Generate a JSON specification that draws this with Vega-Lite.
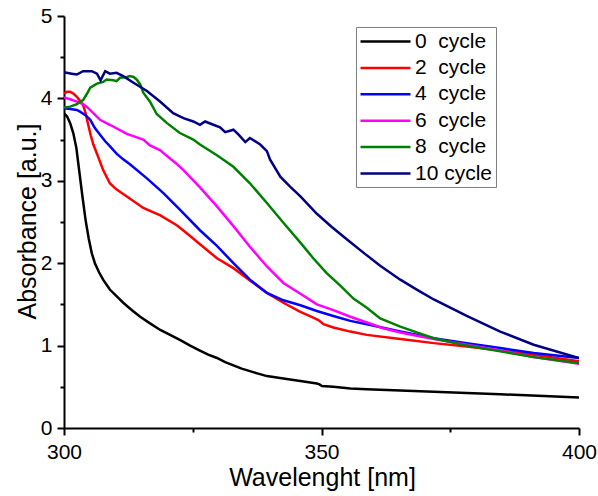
{
  "$schema": "https://vega.github.io/schema/vega-lite/v6.json",
  "autosize": "none",
  "width": 515,
  "height": 412,
  "padding": {"left": 64, "top": 16, "right": 19, "bottom": 68},
  "background": "white",
  "config": {
    "view": {"stroke": null},
    "font": "Liberation Sans",
    "axis": {"grid": false, "domainColor": "black", "domainWidth": 2, "tickColor": "black", "tickWidth": 2, "labelColor": "black", "titleColor": "black", "labelFont": "Liberation Sans", "titleFont": "Liberation Sans", "labelFontSize": 21, "titleFontSize": 25, "titleFontWeight": "normal"}
  },
  "datasets": {
    "spectra": [
      {"c":"0\u00a0\u00a0cycle","w":300,"a":3.82},{"c":"0\u00a0\u00a0cycle","w":300.6,"a":3.78},{"c":"0\u00a0\u00a0cycle","w":301.2,"a":3.70},{"c":"0\u00a0\u00a0cycle","w":301.8,"a":3.58},{"c":"0\u00a0\u00a0cycle","w":302.4,"a":3.40},{"c":"0\u00a0\u00a0cycle","w":303.0,"a":3.10},{"c":"0\u00a0\u00a0cycle","w":303.6,"a":2.80},{"c":"0\u00a0\u00a0cycle","w":304.2,"a":2.52},{"c":"0\u00a0\u00a0cycle","w":304.8,"a":2.30},{"c":"0\u00a0\u00a0cycle","w":305.4,"a":2.12},{"c":"0\u00a0\u00a0cycle","w":306.0,"a":2.00},{"c":"0\u00a0\u00a0cycle","w":306.8,"a":1.89},{"c":"0\u00a0\u00a0cycle","w":307.6,"a":1.80},{"c":"0\u00a0\u00a0cycle","w":308.9,"a":1.68},{"c":"0\u00a0\u00a0cycle","w":310.2,"a":1.60},{"c":"0\u00a0\u00a0cycle","w":311.5,"a":1.52},{"c":"0\u00a0\u00a0cycle","w":313.2,"a":1.43},{"c":"0\u00a0\u00a0cycle","w":314.8,"a":1.35},{"c":"0\u00a0\u00a0cycle","w":316.7,"a":1.27},{"c":"0\u00a0\u00a0cycle","w":318.7,"a":1.19},{"c":"0\u00a0\u00a0cycle","w":320.6,"a":1.13},{"c":"0\u00a0\u00a0cycle","w":322.5,"a":1.07},{"c":"0\u00a0\u00a0cycle","w":324.5,"a":1.00},{"c":"0\u00a0\u00a0cycle","w":326.4,"a":0.94},{"c":"0\u00a0\u00a0cycle","w":328.0,"a":0.89},{"c":"0\u00a0\u00a0cycle","w":329.7,"a":0.85},{"c":"0\u00a0\u00a0cycle","w":331.3,"a":0.80},{"c":"0\u00a0\u00a0cycle","w":332.9,"a":0.76},{"c":"0\u00a0\u00a0cycle","w":334.5,"a":0.72},{"c":"0\u00a0\u00a0cycle","w":336.1,"a":0.69},{"c":"0\u00a0\u00a0cycle","w":337.7,"a":0.66},{"c":"0\u00a0\u00a0cycle","w":339.4,"a":0.63},{"c":"0\u00a0\u00a0cycle","w":342.6,"a":0.60},{"c":"0\u00a0\u00a0cycle","w":345.9,"a":0.57},{"c":"0\u00a0\u00a0cycle","w":349.1,"a":0.54},{"c":"0\u00a0\u00a0cycle","w":349.6,"a":0.53},{"c":"0\u00a0\u00a0cycle","w":350.1,"a":0.51},{"c":"0\u00a0\u00a0cycle","w":352.3,"a":0.50},{"c":"0\u00a0\u00a0cycle","w":355.6,"a":0.48},{"c":"0\u00a0\u00a0cycle","w":358.8,"a":0.47},{"c":"0\u00a0\u00a0cycle","w":365.3,"a":0.455},{"c":"0\u00a0\u00a0cycle","w":371.8,"a":0.44},{"c":"0\u00a0\u00a0cycle","w":378.2,"a":0.425},{"c":"0\u00a0\u00a0cycle","w":384.7,"a":0.41},{"c":"0\u00a0\u00a0cycle","w":392.0,"a":0.39},{"c":"0\u00a0\u00a0cycle","w":400,"a":0.37},
      {"c":"2\u00a0\u00a0cycle","w":300,"a":4.06},{"c":"2\u00a0\u00a0cycle","w":300.6,"a":4.08},{"c":"2\u00a0\u00a0cycle","w":301.2,"a":4.08},{"c":"2\u00a0\u00a0cycle","w":301.8,"a":4.06},{"c":"2\u00a0\u00a0cycle","w":302.5,"a":4.02},{"c":"2\u00a0\u00a0cycle","w":303.1,"a":3.97},{"c":"2\u00a0\u00a0cycle","w":303.7,"a":3.92},{"c":"2\u00a0\u00a0cycle","w":304.2,"a":3.82},{"c":"2\u00a0\u00a0cycle","w":304.7,"a":3.68},{"c":"2\u00a0\u00a0cycle","w":305.2,"a":3.55},{"c":"2\u00a0\u00a0cycle","w":305.7,"a":3.44},{"c":"2\u00a0\u00a0cycle","w":306.7,"a":3.28},{"c":"2\u00a0\u00a0cycle","w":307.6,"a":3.13},{"c":"2\u00a0\u00a0cycle","w":308.9,"a":2.97},{"c":"2\u00a0\u00a0cycle","w":310.1,"a":2.90},{"c":"2\u00a0\u00a0cycle","w":312.2,"a":2.81},{"c":"2\u00a0\u00a0cycle","w":315.4,"a":2.67},{"c":"2\u00a0\u00a0cycle","w":318.7,"a":2.58},{"c":"2\u00a0\u00a0cycle","w":321.9,"a":2.46},{"c":"2\u00a0\u00a0cycle","w":324.5,"a":2.33},{"c":"2\u00a0\u00a0cycle","w":326.4,"a":2.23},{"c":"2\u00a0\u00a0cycle","w":329.7,"a":2.06},{"c":"2\u00a0\u00a0cycle","w":332.9,"a":1.94},{"c":"2\u00a0\u00a0cycle","w":336.1,"a":1.79},{"c":"2\u00a0\u00a0cycle","w":339.4,"a":1.64},{"c":"2\u00a0\u00a0cycle","w":342.6,"a":1.52},{"c":"2\u00a0\u00a0cycle","w":345.9,"a":1.41},{"c":"2\u00a0\u00a0cycle","w":348.4,"a":1.34},{"c":"2\u00a0\u00a0cycle","w":349.4,"a":1.31},{"c":"2\u00a0\u00a0cycle","w":350.4,"a":1.26},{"c":"2\u00a0\u00a0cycle","w":352.3,"a":1.22},{"c":"2\u00a0\u00a0cycle","w":355.6,"a":1.17},{"c":"2\u00a0\u00a0cycle","w":358.8,"a":1.13},{"c":"2\u00a0\u00a0cycle","w":365.3,"a":1.08},{"c":"2\u00a0\u00a0cycle","w":371.8,"a":1.03},{"c":"2\u00a0\u00a0cycle","w":378.2,"a":0.99},{"c":"2\u00a0\u00a0cycle","w":384.7,"a":0.94},{"c":"2\u00a0\u00a0cycle","w":391.2,"a":0.89},{"c":"2\u00a0\u00a0cycle","w":400,"a":0.81},
      {"c":"4\u00a0\u00a0cycle","w":300,"a":3.88},{"c":"4\u00a0\u00a0cycle","w":301.2,"a":3.87},{"c":"4\u00a0\u00a0cycle","w":302.5,"a":3.86},{"c":"4\u00a0\u00a0cycle","w":303.1,"a":3.84},{"c":"4\u00a0\u00a0cycle","w":304.1,"a":3.80},{"c":"4\u00a0\u00a0cycle","w":305.1,"a":3.74},{"c":"4\u00a0\u00a0cycle","w":306.0,"a":3.64},{"c":"4\u00a0\u00a0cycle","w":307.0,"a":3.56},{"c":"4\u00a0\u00a0cycle","w":308.0,"a":3.48},{"c":"4\u00a0\u00a0cycle","w":308.9,"a":3.42},{"c":"4\u00a0\u00a0cycle","w":310.2,"a":3.33},{"c":"4\u00a0\u00a0cycle","w":311.5,"a":3.26},{"c":"4\u00a0\u00a0cycle","w":312.8,"a":3.20},{"c":"4\u00a0\u00a0cycle","w":316.1,"a":3.03},{"c":"4\u00a0\u00a0cycle","w":319.3,"a":2.85},{"c":"4\u00a0\u00a0cycle","w":322.5,"a":2.65},{"c":"4\u00a0\u00a0cycle","w":326.4,"a":2.40},{"c":"4\u00a0\u00a0cycle","w":329.7,"a":2.21},{"c":"4\u00a0\u00a0cycle","w":332.9,"a":2.00},{"c":"4\u00a0\u00a0cycle","w":336.1,"a":1.80},{"c":"4\u00a0\u00a0cycle","w":339.4,"a":1.64},{"c":"4\u00a0\u00a0cycle","w":342.6,"a":1.55},{"c":"4\u00a0\u00a0cycle","w":345.9,"a":1.49},{"c":"4\u00a0\u00a0cycle","w":349.1,"a":1.42},{"c":"4\u00a0\u00a0cycle","w":352.3,"a":1.36},{"c":"4\u00a0\u00a0cycle","w":355.6,"a":1.30},{"c":"4\u00a0\u00a0cycle","w":358.8,"a":1.26},{"c":"4\u00a0\u00a0cycle","w":365.3,"a":1.17},{"c":"4\u00a0\u00a0cycle","w":371.8,"a":1.09},{"c":"4\u00a0\u00a0cycle","w":378.2,"a":1.03},{"c":"4\u00a0\u00a0cycle","w":384.7,"a":0.97},{"c":"4\u00a0\u00a0cycle","w":391.2,"a":0.91},{"c":"4\u00a0\u00a0cycle","w":400,"a":0.85},
      {"c":"6\u00a0\u00a0cycle","w":300,"a":4.01},{"c":"6\u00a0\u00a0cycle","w":301.2,"a":3.99},{"c":"6\u00a0\u00a0cycle","w":302.5,"a":3.96},{"c":"6\u00a0\u00a0cycle","w":303.7,"a":3.93},{"c":"6\u00a0\u00a0cycle","w":304.4,"a":3.90},{"c":"6\u00a0\u00a0cycle","w":305.7,"a":3.82},{"c":"6\u00a0\u00a0cycle","w":307.0,"a":3.74},{"c":"6\u00a0\u00a0cycle","w":308.9,"a":3.68},{"c":"6\u00a0\u00a0cycle","w":312.2,"a":3.57},{"c":"6\u00a0\u00a0cycle","w":315.4,"a":3.50},{"c":"6\u00a0\u00a0cycle","w":316.7,"a":3.43},{"c":"6\u00a0\u00a0cycle","w":318.7,"a":3.37},{"c":"6\u00a0\u00a0cycle","w":320.0,"a":3.30},{"c":"6\u00a0\u00a0cycle","w":321.6,"a":3.22},{"c":"6\u00a0\u00a0cycle","w":323.2,"a":3.13},{"c":"6\u00a0\u00a0cycle","w":326.4,"a":2.92},{"c":"6\u00a0\u00a0cycle","w":329.7,"a":2.69},{"c":"6\u00a0\u00a0cycle","w":332.9,"a":2.45},{"c":"6\u00a0\u00a0cycle","w":336.1,"a":2.20},{"c":"6\u00a0\u00a0cycle","w":339.4,"a":1.96},{"c":"6\u00a0\u00a0cycle","w":342.6,"a":1.76},{"c":"6\u00a0\u00a0cycle","w":345.9,"a":1.63},{"c":"6\u00a0\u00a0cycle","w":349.1,"a":1.50},{"c":"6\u00a0\u00a0cycle","w":352.3,"a":1.43},{"c":"6\u00a0\u00a0cycle","w":355.6,"a":1.35},{"c":"6\u00a0\u00a0cycle","w":358.8,"a":1.28},{"c":"6\u00a0\u00a0cycle","w":362.0,"a":1.21},{"c":"6\u00a0\u00a0cycle","w":365.3,"a":1.16},{"c":"6\u00a0\u00a0cycle","w":368.5,"a":1.12},{"c":"6\u00a0\u00a0cycle","w":371.8,"a":1.08},{"c":"6\u00a0\u00a0cycle","w":378.2,"a":1.01},{"c":"6\u00a0\u00a0cycle","w":384.7,"a":0.94},{"c":"6\u00a0\u00a0cycle","w":391.2,"a":0.86},{"c":"6\u00a0\u00a0cycle","w":400,"a":0.78},
      {"c":"8\u00a0\u00a0cycle","w":300,"a":3.89},{"c":"8\u00a0\u00a0cycle","w":301.2,"a":3.90},{"c":"8\u00a0\u00a0cycle","w":302.5,"a":3.93},{"c":"8\u00a0\u00a0cycle","w":303.7,"a":3.98},{"c":"8\u00a0\u00a0cycle","w":304.4,"a":4.05},{"c":"8\u00a0\u00a0cycle","w":305.1,"a":4.13},{"c":"8\u00a0\u00a0cycle","w":306.4,"a":4.18},{"c":"8\u00a0\u00a0cycle","w":307.6,"a":4.20},{"c":"8\u00a0\u00a0cycle","w":308.3,"a":4.23},{"c":"8\u00a0\u00a0cycle","w":309.6,"a":4.22},{"c":"8\u00a0\u00a0cycle","w":310.2,"a":4.21},{"c":"8\u00a0\u00a0cycle","w":310.9,"a":4.25},{"c":"8\u00a0\u00a0cycle","w":312.2,"a":4.26},{"c":"8\u00a0\u00a0cycle","w":312.8,"a":4.27},{"c":"8\u00a0\u00a0cycle","w":313.5,"a":4.26},{"c":"8\u00a0\u00a0cycle","w":314.1,"a":4.23},{"c":"8\u00a0\u00a0cycle","w":314.8,"a":4.17},{"c":"8\u00a0\u00a0cycle","w":315.4,"a":4.07},{"c":"8\u00a0\u00a0cycle","w":316.7,"a":3.96},{"c":"8\u00a0\u00a0cycle","w":318.0,"a":3.81},{"c":"8\u00a0\u00a0cycle","w":320.0,"a":3.70},{"c":"8\u00a0\u00a0cycle","w":322.5,"a":3.58},{"c":"8\u00a0\u00a0cycle","w":325.1,"a":3.50},{"c":"8\u00a0\u00a0cycle","w":326.4,"a":3.44},{"c":"8\u00a0\u00a0cycle","w":329.7,"a":3.31},{"c":"8\u00a0\u00a0cycle","w":332.9,"a":3.17},{"c":"8\u00a0\u00a0cycle","w":336.1,"a":2.97},{"c":"8\u00a0\u00a0cycle","w":339.4,"a":2.73},{"c":"8\u00a0\u00a0cycle","w":342.6,"a":2.49},{"c":"8\u00a0\u00a0cycle","w":345.9,"a":2.25},{"c":"8\u00a0\u00a0cycle","w":348.4,"a":2.06},{"c":"8\u00a0\u00a0cycle","w":351.0,"a":1.88},{"c":"8\u00a0\u00a0cycle","w":353.6,"a":1.73},{"c":"8\u00a0\u00a0cycle","w":356.2,"a":1.57},{"c":"8\u00a0\u00a0cycle","w":358.8,"a":1.46},{"c":"8\u00a0\u00a0cycle","w":361.4,"a":1.33},{"c":"8\u00a0\u00a0cycle","w":365.3,"a":1.23},{"c":"8\u00a0\u00a0cycle","w":368.5,"a":1.16},{"c":"8\u00a0\u00a0cycle","w":371.8,"a":1.09},{"c":"8\u00a0\u00a0cycle","w":378.2,"a":1.00},{"c":"8\u00a0\u00a0cycle","w":384.7,"a":0.93},{"c":"8\u00a0\u00a0cycle","w":391.2,"a":0.86},{"c":"8\u00a0\u00a0cycle","w":400,"a":0.79},
      {"c":"10 cycle","w":300,"a":4.32},{"c":"10 cycle","w":300.5,"a":4.31},{"c":"10 cycle","w":301.5,"a":4.30},{"c":"10 cycle","w":302.5,"a":4.29},{"c":"10 cycle","w":303.7,"a":4.33},{"c":"10 cycle","w":305.4,"a":4.33},{"c":"10 cycle","w":306.4,"a":4.30},{"c":"10 cycle","w":307.1,"a":4.22},{"c":"10 cycle","w":308.0,"a":4.33},{"c":"10 cycle","w":308.9,"a":4.30},{"c":"10 cycle","w":310.2,"a":4.31},{"c":"10 cycle","w":311.5,"a":4.27},{"c":"10 cycle","w":313.5,"a":4.19},{"c":"10 cycle","w":316.1,"a":4.09},{"c":"10 cycle","w":318.7,"a":3.96},{"c":"10 cycle","w":321.2,"a":3.82},{"c":"10 cycle","w":323.2,"a":3.76},{"c":"10 cycle","w":325.1,"a":3.72},{"c":"10 cycle","w":326.4,"a":3.68},{"c":"10 cycle","w":327.4,"a":3.72},{"c":"10 cycle","w":329.0,"a":3.68},{"c":"10 cycle","w":330.3,"a":3.65},{"c":"10 cycle","w":331.3,"a":3.59},{"c":"10 cycle","w":332.9,"a":3.62},{"c":"10 cycle","w":333.9,"a":3.56},{"c":"10 cycle","w":335.2,"a":3.47},{"c":"10 cycle","w":336.1,"a":3.52},{"c":"10 cycle","w":338.1,"a":3.44},{"c":"10 cycle","w":339.4,"a":3.36},{"c":"10 cycle","w":340.0,"a":3.26},{"c":"10 cycle","w":342.0,"a":3.05},{"c":"10 cycle","w":343.9,"a":2.93},{"c":"10 cycle","w":345.9,"a":2.81},{"c":"10 cycle","w":349.1,"a":2.60},{"c":"10 cycle","w":352.0,"a":2.44},{"c":"10 cycle","w":354.9,"a":2.29},{"c":"10 cycle","w":358.5,"a":2.11},{"c":"10 cycle","w":361.4,"a":1.97},{"c":"10 cycle","w":365.3,"a":1.80},{"c":"10 cycle","w":368.5,"a":1.68},{"c":"10 cycle","w":371.8,"a":1.56},{"c":"10 cycle","w":378.2,"a":1.36},{"c":"10 cycle","w":384.7,"a":1.17},{"c":"10 cycle","w":391.2,"a":1.01},{"c":"10 cycle","w":400,"a":0.85}
    ]
  },
  "data": {"name": "spectra"},
  "layer": [
    {
      "mark": {"type": "line", "strokeWidth": 2.5, "clip": true},
      "encoding": {
        "x": {"field": "w", "type": "quantitative", "scale": {"domain": [300, 400], "nice": false, "zero": false},
          "axis": {"orient": "bottom", "values": [300, 350, 400], "tickSize": 7, "labelPadding": 6, "labelFlush": false, "labelOverlap": false, "title": "Wavelenght [nm]", "titleX": 258, "titleY": 57, "titleBaseline": "alphabetic", "titleAnchor": "middle", "titleAlign": "center"}},
        "y": {"field": "a", "type": "quantitative", "scale": {"domain": [0, 5], "nice": false, "zero": false},
          "axis": {"orient": "left", "values": [0, 1, 2, 3, 4, 5], "tickSize": 7, "labelPadding": 5, "labelFlush": false, "labelOverlap": false, "title": "Absorbance [a.u.]", "titleAngle": 270, "titleX": -29, "titleY": 205, "titleBaseline": "alphabetic", "titleAlign": "center", "titleAnchor": "middle"}},
        "color": {"field": "c", "type": "nominal",
          "scale": {"domain": ["0\u00a0\u00a0cycle", "2\u00a0\u00a0cycle", "4\u00a0\u00a0cycle", "6\u00a0\u00a0cycle", "8\u00a0\u00a0cycle", "10 cycle"], "range": ["#000000", "#ff0000", "#0000ff", "#ff00ff", "#008000", "#000080"]},
          "legend": {"title": null, "orient": "none", "legendX": 292, "legendY": 11, "symbolType": "M-1,0H4", "symbolSize": 400, "symbolStrokeWidth": 2.5, "symbolFillColor": "transparent", "labelFontSize": 21, "labelFont": "Liberation Sans", "labelColor": "black", "labelOffset": 33, "rowPadding": 4.4, "padding": 3, "strokeColor": "#808080", "fillColor": "white", "labelLimit": 300}}
      }
    },
    {
      "mark": {"type": "line", "strokeOpacity": 0},
      "encoding": {
        "x": {"field": "w", "type": "quantitative", "axis": {"orient": "bottom", "values": [325, 375], "tickSize": 4, "labels": false, "domain": false, "title": null}},
        "y": {"field": "a", "type": "quantitative", "axis": {"orient": "left", "values": [0.5, 1.5, 2.5, 3.5, 4.5], "tickSize": 4, "labels": false, "domain": false, "title": null}},
        "detail": {"field": "c"}
      }
    }
  ],
  "resolve": {"axis": {"x": "independent", "y": "independent"}}
}
